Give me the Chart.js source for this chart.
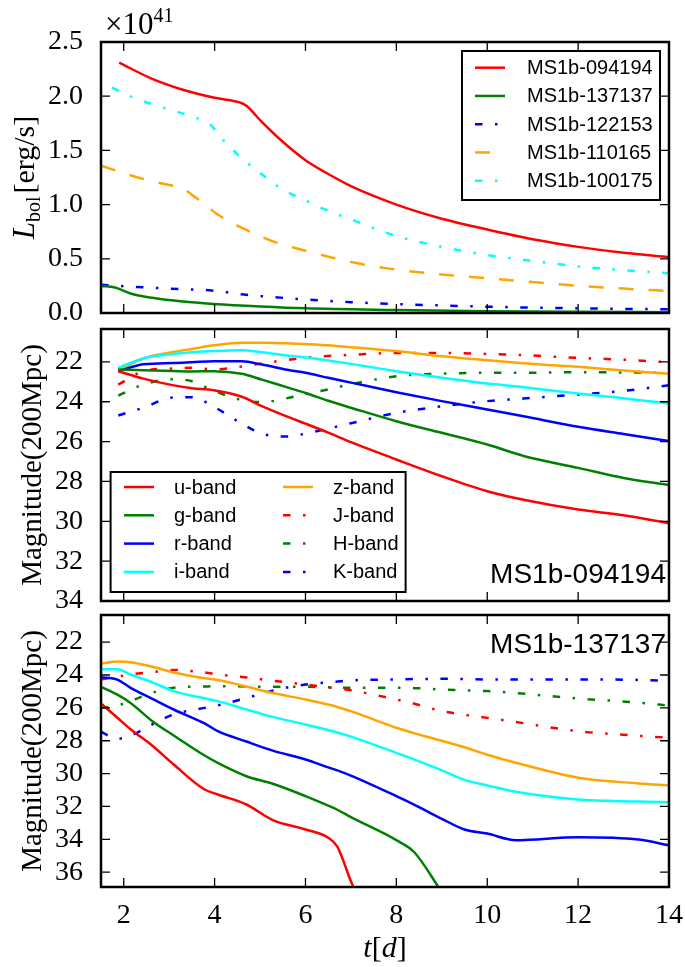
<!DOCTYPE html>
<html>
<head>
<meta charset="utf-8">
<title>Light curves</title>
<script src="https://cdn.jsdelivr.net/npm/chart.js@4.4.1/dist/chart.umd.min.js"></script>
<style>
    html, body { margin: 0; padding: 0; background: #fff; }
    #wrap { position: relative; width: 685px; height: 967px; }
    #wrap canvas { position: absolute; left: 0; }
</style>
</head>
<body>
<div id="wrap">
    <canvas id="lbolChart" width="685" height="320" style="top:0px"></canvas>
    <canvas id="mag094Chart" width="685" height="288" style="top:320px"></canvas>
    <canvas id="mag137Chart" width="685" height="359" style="top:608px"></canvas>
</div>
<script>
// ========================================
// DATA
// ========================================
const dayTicks = [2, 4, 6, 8, 10, 12, 14];
const lbolTicks = [0, 0.5, 1, 1.5, 2, 2.5];
const lbolTickLabels = ['0.0', '0.5', '1.0', '1.5', '2.0', '2.5'];
const magTicks094 = [22, 24, 26, 28, 30, 32, 34];
const magTicks137 = [22, 24, 26, 28, 30, 32, 34, 36];

// bolometric luminosity, in units of 1e41 erg/s
const lbolModels = ['MS1b-094194', 'MS1b-137137', 'MS1b-122153', 'MS1b-110165', 'MS1b-100175'];
const tL094194 = [1.9, 2.6, 3.3, 4.0, 4.6, 4.72, 5.0, 5.5, 6.0, 6.64, 7.0, 8.0, 9.0, 10.0, 11.0, 12.0, 13.0, 14.0];
const L094194 = [2.31, 2.165, 2.06, 1.985, 1.935, 1.905, 1.78, 1.58, 1.41, 1.25, 1.17, 1.0, 0.87, 0.77, 0.68, 0.61, 0.555, 0.515];
const tL137137 = [1.5, 1.81, 2.15, 2.63, 3.3, 3.98, 5.0, 6.0, 8.0, 10.0, 12.0, 14.0];
const L137137 = [0.25, 0.235, 0.18, 0.14, 0.105, 0.083, 0.06, 0.043, 0.028, 0.017, 0.011, 0.008];
const tL122153 = [1.5, 2.15, 3.0, 3.98, 4.65, 6.0, 7.0, 8.0, 10.0, 12.0, 14.0];
const L122153 = [0.26, 0.243, 0.225, 0.206, 0.17, 0.125, 0.10, 0.083, 0.058, 0.043, 0.034];
const tL110165 = [1.5, 2.0, 2.4, 3.0, 3.25, 3.6, 4.1, 4.7, 5.3, 6.0, 7.0, 8.0, 9.0, 10.0, 11.0, 12.0, 13.0, 14.0];
const L110165 = [1.36, 1.29, 1.24, 1.18, 1.16, 1.06, 0.90, 0.766, 0.658, 0.575, 0.47, 0.40, 0.355, 0.32, 0.285, 0.25, 0.225, 0.203];
const tL100175 = [1.74, 2.2, 2.9, 3.6, 3.9, 4.2, 4.5, 4.75, 5.06, 5.35, 5.7, 6.05, 6.4, 6.96, 8.0, 9.0, 10.0, 11.0, 12.0, 13.0, 14.0];
const L100175 = [2.08, 1.99, 1.89, 1.80, 1.74, 1.59, 1.465, 1.375, 1.273, 1.18, 1.095, 1.03, 0.96, 0.87, 0.71, 0.61, 0.535, 0.48, 0.43, 0.395, 0.366];

// band magnitudes at 200 Mpc
const bandNames = ['u-band', 'g-band', 'r-band', 'i-band', 'z-band', 'J-band', 'H-band', 'K-band'];

// MS1b-094194
const tM094194 = [1.88, 2.43, 3.1, 3.5, 3.98, 4.6, 5.04, 5.6, 6.0, 6.5, 7.0, 8.0, 9.0, 10.0, 10.8, 12.0, 13.0, 14.0];
const u094194 = [22.47, 22.84, 23.18, 23.32, 23.42, 23.75, 24.22, 24.75, 25.1, 25.55, 26.03, 26.9, 27.74, 28.49, 28.92, 29.41, 29.7, 30.1];
const g094194 = [22.38, 22.42, 22.46, 22.48, 22.47, 22.6, 22.89, 23.28, 23.56, 23.95, 24.3, 24.98, 25.56, 26.15, 26.72, 27.32, 27.83, 28.18];
const r094194 = [22.47, 22.12, 22.06, 22.02, 21.97, 21.97, 22.13, 22.4, 22.55, 22.8, 23.04, 23.52, 23.97, 24.39, 24.73, 25.26, 25.62, 25.97];
const i094194 = [22.30, 21.83, 21.6, 21.52, 21.46, 21.42, 21.52, 21.68, 21.78, 21.93, 22.1, 22.47, 22.8, 23.09, 23.27, 23.59, 23.82, 24.1];
const z094194 = [22.44, 21.83, 21.5, 21.35, 21.17, 21.04, 21.04, 21.07, 21.1, 21.17, 21.26, 21.46, 21.72, 21.92, 22.07, 22.25, 22.43, 22.6];
const J094194 = [23.14, 22.47, 22.33, 22.3, 22.38, 22.23, 22.08, 21.9, 21.8, 21.7, 21.65, 21.55, 21.55, 21.6, 21.66, 21.8, 21.89, 22.02];
const H094194 = [23.69, 23.14, 22.87, 22.97, 23.45, 23.92, 24.02, 23.82, 23.6, 23.38, 23.12, 22.72, 22.59, 22.55, 22.55, 22.52, 22.53, 22.55];
const K094194 = [24.69, 24.3, 23.78, 23.77, 24.25, 25.1, 25.6, 25.75, 25.6, 25.35, 25.08, 24.56, 24.23, 23.97, 23.84, 23.64, 23.46, 23.17];

// MS1b-137137 (u and g fade below the plotted range)
const tM137137 = [1.5, 1.86, 2.15, 2.63, 3.1, 3.78, 4.07, 4.7, 5.28, 6.0, 6.5, 6.7, 7.0, 8.0, 8.4, 9.0, 9.5, 10.0, 10.63, 12.0, 13.33, 14.0];
const u137137 = [25.73, 26.6, 27.3, 28.3, 29.45, 30.97, 31.27, 31.88, 32.83, 33.4, 33.9, 34.45, 36.55, 43.0];
const g137137 = [24.72, 25.2, 25.7, 26.81, 27.68, 28.9, 29.35, 30.16, 30.62, 31.37, 31.95, 32.2, 32.65, 34.05, 34.8, 37.2, 39.0];
const r137137 = [24.13, 24.28, 24.78, 25.45, 26.1, 26.95, 27.42, 28.05, 28.6, 29.14, 29.62, 29.8, 30.12, 31.37, 31.9, 32.75, 33.4, 33.65, 34.05, 33.87, 34.01, 34.36];
const i137137 = [23.66, 23.65, 23.97, 24.45, 24.98, 25.42, 25.59, 26.1, 26.55, 27.01, 27.35, 27.5, 27.75, 28.74, 29.15, 29.8, 30.38, 30.72, 31.11, 31.58, 31.7, 31.75];
const z137137 = [23.3, 23.18, 23.22, 23.5, 23.85, 24.2, 24.31, 24.7, 25.1, 25.49, 25.8, 25.95, 26.2, 27.21, 27.55, 28.0, 28.4, 28.85, 29.34, 30.25, 30.6, 30.72];
const J137137 = [24.27, 24.1, 23.97, 23.82, 23.7, 23.85, 23.97, 24.15, 24.35, 24.58, 24.75, 24.82, 24.93, 25.49, 25.75, 26.2, 26.42, 26.61, 26.86, 27.42, 27.7, 27.82];
const H137137 = [26.0, 25.85, 25.59, 25.08, 24.78, 24.7, 24.68, 24.7, 24.72, 24.72, 24.75, 24.77, 24.78, 24.78, 24.8, 24.88, 24.93, 24.98, 25.1, 25.43, 25.68, 25.86];
const K137137 = [27.46, 27.88, 27.7, 27.0, 26.4, 26.0, 25.85, 25.4, 24.95, 24.58, 24.45, 24.4, 24.33, 24.27, 24.25, 24.23, 24.25, 24.27, 24.27, 24.27, 24.3, 24.37];

// ========================================
// STYLES
// ========================================
const SERIF = '"Liberation Serif", "DejaVu Serif", serif';
const SANS = '"Liberation Sans", Arial, sans-serif';
const DASHED = [15, 15];
const DASHDOT = [7.5, 12.5, 2.5, 12.5];
const lbolColors = ['#ff0000', '#008000', '#0000ff', '#ffa500', '#00ffff'];
const lbolDashes = [[], [], DASHDOT, DASHED, DASHDOT];
const bandColors = ['#ff0000', '#008000', '#0000ff', '#00ffff', '#ffa500', '#ff0000', '#008000', '#0000ff'];
const bandDashes = [[], [], [], [], [], DASHDOT, DASHDOT, DASHDOT];

function zip(ts, vs) {
    return vs.map(function (v, i) { return { x: ts[i], y: v }; });
}

function makeDataset(label, ts, vs, color, dash) {
    return {
        label: label,
        data: zip(ts, vs),
        borderColor: color,
        borderDash: dash,
        borderWidth: 2.5,
        pointRadius: 0,
        cubicInterpolationMode: 'monotone',
        fill: false,
        clip: 0
    };
}

// ========================================
// DECORATION PLUGIN (frame, inward ticks, legend, labels)
// ========================================
function drawRich(ctx, segs, x, y, rotate, align) {
    ctx.save();
    ctx.translate(x, y);
    if (rotate) ctx.rotate(-Math.PI / 2);
    let total = 0;
    segs.forEach(function (s) {
        ctx.font = s.font;
        s.w = ctx.measureText(s.text).width + (s.gap || 0);
        total += s.w;
    });
    let cx = align === 'left' ? 0 : -total / 2;
    ctx.fillStyle = '#000';
    ctx.textBaseline = 'alphabetic';
    ctx.textAlign = 'left';
    segs.forEach(function (s) {
        ctx.font = s.font;
        ctx.fillText(s.text, cx, s.dy || 0);
        cx += s.w;
    });
    ctx.restore();
}

function drawLegend(chart, lg) {
    const ctx = chart.ctx;
    const a = chart.chartArea;
    const bx = lg.left != null ? a.left + lg.left : a.right - lg.right - lg.width;
    const by = lg.top != null ? a.top + lg.top : a.bottom - lg.bottom - lg.height;
    ctx.save();
    ctx.fillStyle = '#fff';
    ctx.fillRect(bx, by, lg.width, lg.height);
    ctx.lineWidth = 2;
    ctx.strokeStyle = '#000';
    ctx.strokeRect(bx, by, lg.width, lg.height);
    chart.data.datasets.forEach(function (ds, i) {
        const col = Math.floor(i / lg.rows);
        const row = i % lg.rows;
        const x0 = bx + lg.lineX + col * (lg.colStep || 0);
        const y0 = by + lg.firstRow + row * lg.rowStep;
        ctx.setLineDash(ds.borderDash || []);
        ctx.strokeStyle = ds.borderColor;
        ctx.lineWidth = ds.borderWidth;
        ctx.beginPath();
        ctx.moveTo(x0, y0);
        ctx.lineTo(x0 + lg.lineLen, y0);
        ctx.stroke();
        ctx.setLineDash([]);
        ctx.fillStyle = '#000';
        ctx.font = '20px ' + SANS;
        ctx.textAlign = 'left';
        ctx.textBaseline = 'middle';
        ctx.fillText(ds.label, x0 + lg.textGap, y0 + 1);
    });
    ctx.restore();
}

const panelDecor = {
    id: 'panelDecor',
    afterDatasetsDraw: function (chart, args, opts) {
        const ctx = chart.ctx;
        const a = chart.chartArea;
        const xs = chart.scales.x;
        const ys = chart.scales.y;
        const tl = 9;

        ctx.save();
        ctx.strokeStyle = '#000';
        ctx.lineWidth = 1.3;
        ctx.beginPath();
        xs.ticks.forEach(function (tk) {
            const px = xs.getPixelForValue(tk.value);
            ctx.moveTo(px, a.bottom); ctx.lineTo(px, a.bottom - tl);
            ctx.moveTo(px, a.top); ctx.lineTo(px, a.top + tl);
        });
        ys.ticks.forEach(function (tk) {
            const py = ys.getPixelForValue(tk.value);
            ctx.moveTo(a.left, py); ctx.lineTo(a.left + tl, py);
            ctx.moveTo(a.right, py); ctx.lineTo(a.right - tl, py);
        });
        ctx.stroke();
        ctx.lineWidth = 2.5;
        ctx.strokeRect(a.left, a.top, a.right - a.left, a.bottom - a.top);
        ctx.restore();

        if (opts.legend) drawLegend(chart, opts.legend);

        if (opts.tag) {
            ctx.save();
            ctx.fillStyle = '#000';
            ctx.font = '28px ' + SANS;
            ctx.textAlign = 'right';
            ctx.textBaseline = 'alphabetic';
            const ty = opts.tag.top != null ? a.top + opts.tag.top : a.bottom - opts.tag.bottom;
            ctx.fillText(opts.tag.text, a.right - 3, ty);
            ctx.restore();
        }

        if (opts.yTitle) {
            drawRich(ctx, opts.yTitle.segs, opts.yTitle.x, (a.top + a.bottom) / 2, true, 'center');
        }
        if (opts.xTitle) {
            drawRich(ctx, opts.xTitle.segs, (a.left + a.right) / 2, opts.xTitle.y, false, 'center');
        }
        if (opts.offset) {
            drawRich(ctx, opts.offset.segs, a.left + 4, opts.offset.y, false, 'left');
        }
    }
};

// ========================================
// CHART FACTORY
// ========================================
function buildPanel(canvasId, datasets, cfg) {
    const el = document.getElementById(canvasId);
    return new Chart(el, {
        type: 'line',
        data: { datasets: datasets },
        plugins: [panelDecor],
        options: {
            responsive: false,
            animation: false,
            events: [],
            layout: { padding: { top: cfg.padTop, right: 16, bottom: 0, left: 0 } },
            scales: {
                x: {
                    type: 'linear',
                    min: 1.5,
                    max: 14,
                    grid: { display: false },
                    border: { display: false },
                    afterBuildTicks: function (s) { s.ticks = dayTicks.map(function (v) { return { value: v }; }); },
                    afterFit: function (s) {
                        s.height = cfg.xHeight;
                        s.paddingLeft = 0; s.paddingRight = 0;
                    },
                    ticks: {
                        display: cfg.showX,
                        padding: 4,
                        color: '#000',
                        maxRotation: 0,
                        font: { family: SERIF, size: 28 },
                        callback: function (v) { return String(v); }
                    }
                },
                y: {
                    type: 'linear',
                    reverse: cfg.reverse,
                    min: cfg.yMin,
                    max: cfg.yMax,
                    grid: { display: false },
                    border: { display: false },
                    afterBuildTicks: function (s) { s.ticks = cfg.yTicks.map(function (v) { return { value: v }; }); },
                    afterFit: function (s) {
                        s.width = 101;
                        s.paddingTop = 0; s.paddingBottom = 0;
                    },
                    ticks: {
                        padding: 10,
                        color: '#000',
                        font: { family: SERIF, size: 28 },
                        callback: function (v, i) { return cfg.yLabels ? cfg.yLabels[i] : String(v); }
                    }
                }
            },
            plugins: {
                legend: { display: false },
                tooltip: { enabled: false },
                panelDecor: cfg.decor
            }
        }
    });
}

const magTitle = {
    x: 41,
    segs: [{ text: 'Magnitude(200Mpc)', font: '29px ' + SERIF }]
};

document.addEventListener('DOMContentLoaded', function () {
    const lbolSeries = [
        [tL094194, L094194], [tL137137, L137137], [tL122153, L122153],
        [tL110165, L110165], [tL100175, L100175]
    ];
    buildPanel('lbolChart', lbolSeries.map(function (s, i) {
        return makeDataset(lbolModels[i], s[0], s[1], lbolColors[i], lbolDashes[i]);
    }), {
        padTop: 42, xHeight: 7, showX: false, reverse: false,
        yMin: 0, yMax: 2.5, yTicks: lbolTicks, yLabels: lbolTickLabels,
        decor: {
            legend: { left: 361, top: 9, width: 198, height: 149, rows: 5, firstRow: 16.7, rowStep: 28.25, lineX: 13, lineLen: 30, textGap: 52 },
            yTitle: {
                x: 34,
                segs: [
                    { text: 'L', font: 'italic 31px ' + SERIF },
                    { text: 'bol', font: '20px ' + SERIF, dy: 6, gap: 3 },
                    { text: '[erg/s]', font: '30px ' + SERIF }
                ]
            },
            offset: {
                y: 34,
                segs: [
                    { text: '\u00d710', font: '31px ' + SERIF },
                    { text: '41', font: '20px ' + SERIF, dy: -12 }
                ]
            }
        }
    });

    const bands094 = [u094194, g094194, r094194, i094194, z094194, J094194, H094194, K094194];
    buildPanel('mag094Chart', bands094.map(function (vs, i) {
        return makeDataset(bandNames[i], tM094194, vs, bandColors[i], bandDashes[i]);
    }), {
        padTop: 9, xHeight: 7, showX: false, reverse: true,
        yMin: 20.35, yMax: 34, yTicks: magTicks094,
        decor: {
            legend: { left: 9.6, bottom: 9, width: 295, height: 120, rows: 4, firstRow: 15, rowStep: 28.3, lineX: 13.4, colStep: 159, lineLen: 30, textGap: 50 },
            tag: { text: 'MS1b-094194', bottom: 18 },
            yTitle: magTitle
        }
    });

    const bands137 = [u137137, g137137, r137137, i137137, z137137, J137137, H137137, K137137];
    buildPanel('mag137Chart', bands137.map(function (vs, i) {
        return makeDataset(bandNames[i], tM137137, vs, bandColors[i], bandDashes[i]);
    }), {
        padTop: 7, xHeight: 80, showX: true, reverse: true,
        yMin: 20.35, yMax: 36.9, yTicks: magTicks137,
        decor: {
            tag: { text: 'MS1b-137137', top: 38 },
            yTitle: magTitle,
            xTitle: {
                y: 349,
                segs: [
                    { text: 't', font: 'italic 30px ' + SERIF },
                    { text: '[', font: '30px ' + SERIF },
                    { text: 'd', font: 'italic 30px ' + SERIF },
                    { text: ']', font: '30px ' + SERIF }
                ]
            }
        }
    });
});
</script>
</body>
</html>
